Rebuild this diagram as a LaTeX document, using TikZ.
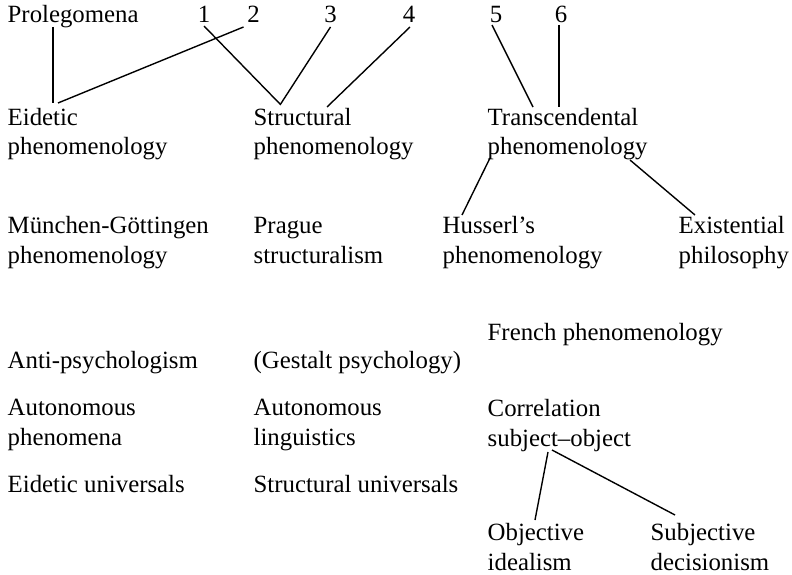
\documentclass[tikz,border=0pt]{standalone}
\usepackage{fontspec}
\setmainfont{Liberation Serif}
\usetikzlibrary{calc}
\begin{document}
\begin{tikzpicture}[x=1bp,y=-1bp,
  lbl/.style={anchor=base west,inner sep=0pt,align=left,
    font=\fontsize{24.9}{30}\selectfont},
  num/.style={anchor=base,inner sep=0pt,
    font=\fontsize{24.9}{30}\selectfont},
  every path/.style={line width=1.4pt}]
  \useasboundingbox (0,0) rectangle (792,575);
  % top row
  \node[lbl] (prol) at (7,23) {Prolegomena};
  \node[num] (n1) at (204,23) {1};
  \node[num] (n2) at (253.5,23) {2};
  \node[num] (n3) at (330.5,23) {3};
  \node[num] (n4) at (409,23) {4};
  \node[num] (n5) at (496,23) {5};
  \node[num] (n6) at (561,23) {6};
  % two-line labels sit on the baseline of their last line
  \node[lbl] (eid) at (7,155) {Eidetic\\phenomenology};
  \node[lbl] (struct) at (253,155) {Structural\\phenomenology};
  \node[lbl] (trans) at (487,155) {Transcendental\\phenomenology};
  \node[lbl] (munich) at (7,263) {München-Göttingen\\phenomenology};
  \node[lbl] (prague) at (253,263) {Prague\\structuralism};
  \node[lbl] (husserl) at (442,263) {Husserl’s\\phenomenology};
  \node[lbl] (exist) at (678,263) {Existential\\philosophy};
  \node[lbl] (french) at (487,340) {French phenomenology};
  \node[lbl] (anti) at (7,368) {Anti-psychologism};
  \node[lbl] (gestalt) at (253,368) {(Gestalt psychology)};
  \node[lbl] (autphen) at (7,445) {Autonomous\\phenomena};
  \node[lbl] (autling) at (253,445) {Autonomous\\linguistics};
  \node[lbl] (corr) at (487,446) {Correlation\\subject–object};
  \node[lbl] (eiduni) at (7,492) {Eidetic universals};
  \node[lbl] (struni) at (253,492) {Structural universals};
  \node[lbl] (obj) at (487,570) {Objective\\idealism};
  \node[lbl] (subj) at (650,570) {Subjective\\decisionism};
  % links
  \draw ($(prol.base west)+(46,4)$) -- ($(eid.base west)+(46,-52)$);
  \draw ($(n2.base)+(-10,4)$) -- ($(eid.base west)+(51,-52)$);
  \draw ($(n1.base)+(0,3)$) -- ($(struct.base west)+(27,-51)$);
  \draw ($(n3.base)+(0,4)$) -- ($(struct.base west)+(27,-50)$);
  \draw ($(n4.base)+(1,4)$) -- ($(struct.base west)+(74,-48)$);
  \draw ($(n5.base)+(-4,2)$) -- ($(trans.base west)+(46,-48)$);
  \draw ($(n6.base)+(-2,2)$) -- ($(trans.base west)+(72,-48)$);
  \draw ($(trans.base west)+(3,3)$) -- ($(husserl.base west)+(20,-48)$);
  \draw ($(trans.base west)+(143,5)$) -- ($(exist.base west)+(17,-48)$);
  \draw ($(corr.base west)+(61,6)$) -- ($(obj.base west)+(48,-50)$);
  \draw ($(corr.base west)+(65,4)$) -- ($(subj.base west)+(25,-55)$);
\end{tikzpicture}
\end{document}
